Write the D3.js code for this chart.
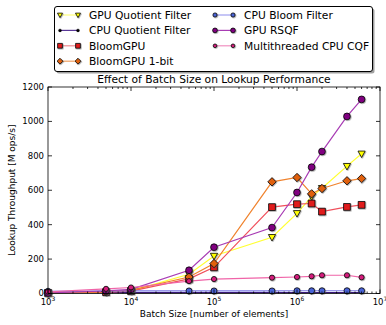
<!DOCTYPE html>
<html>
<head>
<meta charset="utf-8">
<script src="https://cdn.jsdelivr.net/npm/d3@7"></script>
<style>
  html, body { margin: 0; padding: 0; background: #fff; }
  svg { display: block; font-family: "DejaVu Sans", sans-serif; }
</style>
</head>
<body>
<svg id="chart" width="386" height="325"></svg>
<script>
// Batch sizes (number of elements) used for every filter
const batchSizes = [1e3, 5e3, 1e4, 5e4, 1e5, 5e5, 1e6, 1.5e6, 2e6, 4e6, 6e6];

// Lookup throughput in M ops/s, one array per filter
const gpuQuotient   = [5, 8, 15, 112, 218, 327, 466, 563, 612, 740, 812];
const cpuQuotient   = [9, 6, 5, 5, 5, 5, 5, 5, 5, 5, 5];
const bloomGpu      = [3, 8, 14, 85, 152, 502, 519, 523, 476, 503, 515];
const bloomGpu1bit  = [3, 10, 20, 96, 174, 649, 674, 579, 610, 655, 668];
const cpuBloom      = [13, 14, 15, 15, 15, 15, 16, 16, 16, 16, 16];
const gpuRsqf       = [3, 15, 24, 135, 269, 383, 587, 734, 825, 1029, 1128];
const cpuCqf        = [10, 27, 35, 72, 84, 92, 96, 100, 106, 106, 94];

const seriesNames = ["GPU Quotient Filter", "CPU Quotient Filter", "BloomGPU",
  "BloomGPU 1-bit", "CPU Bloom Filter", "GPU RSQF", "Multithreaded CPU CQF"];

const yTicks = [0, 200, 400, 600, 800, 1000, 1200];
const xTicks = [1e3, 1e4, 1e5, 1e6, 1e7];
const xTickExp = ["3", "4", "5", "6", "7"];

const titleText = "Effect of Batch Size on Lookup Performance";
const xLabelText = "Batch Size [number of elements]";
const yLabelText = "Lookup Throughput [M ops/s]";

// Per-series styling
const styles = [
  { line: "#ffff33", legendLine: "#ffff80", fill: "#ffff00", marker: "tri",     size: 3.6 },
  { line: "#3a1878", legendLine: "#5a3898", fill: "#000000", marker: "dot",     size: 1.7 },
  { line: "#f0505c", legendLine: "#f08a90", fill: "#e01a1c", marker: "square",  size: 3.4 },
  { line: "#f0832e", legendLine: "#f0a060", fill: "#e0600c", marker: "diamond", size: 4.2 },
  { line: "#7a78e6", legendLine: "#a0a0f0", fill: "#4a64d6", marker: "circle",  size: 3.0 },
  { line: "#a83cb4", legendLine: "#a83cb4", fill: "#800080", marker: "circle",  size: 3.4 },
  { line: "#f064a8", legendLine: "#f090c0", fill: "#d41c7c", marker: "circle",  size: 2.6 }
];
const seriesValues = [gpuQuotient, cpuQuotient, bloomGpu, bloomGpu1bit, cpuBloom, gpuRsqf, cpuCqf];

const svg = d3.select("#chart");
const plot = { left: 48, right: 380, top: 87, bottom: 293.5 };

const x = d3.scaleLog().domain([1e3, 1e7]).range([plot.left, plot.right]);
const y = d3.scaleLinear().domain([0, 1200]).range([plot.bottom, plot.top]);

// Drop shadow used by the markers
const defs = svg.append("defs");
const sh = defs.append("filter").attr("id", "mshadow")
  .attr("x", "-50%").attr("y", "-50%").attr("width", "200%").attr("height", "200%");
sh.append("feDropShadow").attr("dx", 0.7).attr("dy", 0.7)
  .attr("stdDeviation", 0.35).attr("flood-color", "#555").attr("flood-opacity", 0.6);
defs.append("clipPath").attr("id", "plotclip").append("rect")
  .attr("x", plot.left).attr("y", plot.top)
  .attr("width", plot.right - plot.left).attr("height", plot.bottom - plot.top);

function markerPath(kind, s) {
  switch (kind) {
    case "tri":     return `M${-s},${-s * 0.75}L${s},${-s * 0.75}L0,${s * 1.05}Z`;
    case "square":  return `M${-s},${-s}H${s}V${s}H${-s}Z`;
    case "diamond": return `M0,${-s}L${s},0L0,${s}L${-s},0Z`;
    default:        return d3.symbol(d3.symbolCircle, Math.PI * s * s)();
  }
}

function drawMarker(g, kind, s, fill) {
  g.append("path").attr("d", markerPath(kind, s))
    .attr("fill", fill)
    .attr("stroke", "#000")
    .attr("stroke-width", kind === "dot" ? 0.3 : 0.8)
    .attr("filter", kind === "dot" ? null : "url(#mshadow)");
}

// Series lines and markers
const dataLayer = svg.append("g").attr("clip-path", "url(#plotclip)");
seriesValues.forEach((vals, i) => {
  const st = styles[i];
  const pts = batchSizes.map((b, j) => [b, vals[j]]);
  const line = d3.line().x(d => x(d[0])).y(d => y(d[1]));
  dataLayer.append("path").datum(pts).attr("d", line)
    .attr("fill", "none").attr("stroke", st.line).attr("stroke-width", 1.2);
});
const markerLayer = svg.append("g");
seriesValues.forEach((vals, i) => {
  const st = styles[i];
  batchSizes.forEach((b, j) => {
    const g = markerLayer.append("g").attr("transform", `translate(${x(b)},${y(vals[j])})`);
    drawMarker(g, st.marker, st.size, st.fill);
  });
});

// Frame with inward ticks on all four sides
const axes = svg.append("g").attr("stroke", "#000").attr("stroke-width", 0.8);
axes.append("rect").attr("x", plot.left).attr("y", plot.top)
  .attr("width", plot.right - plot.left).attr("height", plot.bottom - plot.top)
  .attr("fill", "none");

yTicks.forEach(v => {
  const yy = y(v);
  axes.append("line").attr("x1", plot.left).attr("x2", plot.left + 4).attr("y1", yy).attr("y2", yy);
  axes.append("line").attr("x1", plot.right).attr("x2", plot.right - 4).attr("y1", yy).attr("y2", yy);
});
xTicks.forEach(v => {
  const xx = x(v);
  axes.append("line").attr("x1", xx).attr("x2", xx).attr("y1", plot.bottom).attr("y2", plot.bottom - 4);
  axes.append("line").attr("x1", xx).attr("x2", xx).attr("y1", plot.top).attr("y2", plot.top + 4);
});
// Minor ticks for the log axis
for (let d = 3; d < 7; d++) {
  for (let m = 2; m <= 9; m++) {
    const xx = x(m * Math.pow(10, d));
    axes.append("line").attr("x1", xx).attr("x2", xx).attr("y1", plot.bottom).attr("y2", plot.bottom - 2);
    axes.append("line").attr("x1", xx).attr("x2", xx).attr("y1", plot.top).attr("y2", plot.top + 2);
  }
}

// Tick labels
const yl = svg.append("g").attr("font-size", 8.5).attr("fill", "#000").attr("text-anchor", "end");
yTicks.forEach(v => {
  yl.append("text").attr("x", plot.left - 4).attr("y", y(v) + (v === 0 ? 2 : 3)).text(v);
});
const xl = svg.append("g").attr("fill", "#000");
xTicks.forEach((v, i) => {
  const t = xl.append("text").attr("x", x(v)).attr("y", 305).attr("text-anchor", "middle").attr("font-size", 8.5);
  t.append("tspan").text("10");
  t.append("tspan").attr("font-size", 6).attr("dy", -4).text(xTickExp[i]);
});

// Title and axis labels
svg.append("text").attr("x", (plot.left + plot.right) / 2).attr("y", 83)
  .attr("text-anchor", "middle").attr("font-size", 10.7).text(titleText);
svg.append("text").attr("x", (plot.left + plot.right) / 2).attr("y", 316.5)
  .attr("text-anchor", "middle").attr("font-size", 9).text(xLabelText);
svg.append("text").attr("transform", `translate(15,${(plot.top + plot.bottom) / 2}) rotate(-90)`)
  .attr("text-anchor", "middle").attr("font-size", 9).text(yLabelText);

// Legend
const lg = svg.append("g");
const box = { x: 54.5, y: 6.5, w: 318, h: 65 };
lg.append("rect").attr("x", box.x + 2).attr("y", box.y + 2).attr("width", box.w).attr("height", box.h)
  .attr("rx", 2.5).attr("fill", "#888").attr("opacity", 0.8);
lg.append("rect").attr("x", box.x).attr("y", box.y).attr("width", box.w).attr("height", box.h)
  .attr("rx", 2.5).attr("fill", "#fff").attr("stroke", "#000").attr("stroke-width", 1);
const rowY = [15, 30.4, 45.8, 61.2];
seriesNames.forEach((name, i) => {
  const col = i < 4 ? 0 : 1;
  const row = i < 4 ? i : i - 4;
  const x0 = col === 0 ? 60 : 215;
  const yy = rowY[row];
  const st = styles[i];
  lg.append("line").attr("x1", x0).attr("x2", x0 + 18).attr("y1", yy).attr("y2", yy)
    .attr("stroke", st.legendLine).attr("stroke-width", 1.2);
  [x0, x0 + 18].forEach(mx => {
    const g = lg.append("g").attr("transform", `translate(${mx},${yy})`);
    drawMarker(g, st.marker, st.marker === "dot" ? 1.5 : st.size * 0.7, st.fill);
  });
  lg.append("text").attr("x", x0 + 29).attr("y", yy + 3.8).attr("font-size", 10.7).text(name);
});
</script>
</body>
</html>
